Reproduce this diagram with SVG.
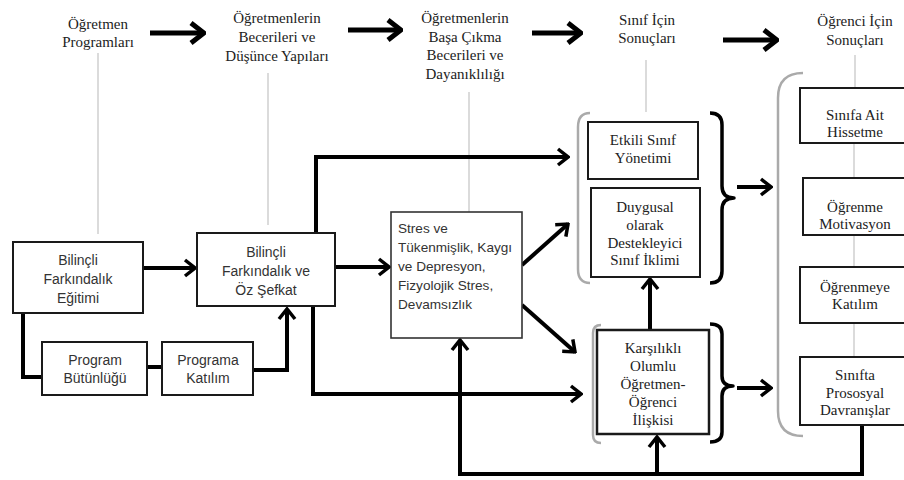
<svg xmlns="http://www.w3.org/2000/svg" width="904" height="480" viewBox="0 0 904 480">
<defs>
<style>
.serif{font-family:"Liberation Serif","Times New Roman",serif;font-size:15px;fill:#222;text-anchor:middle}
.sans{font-family:"Liberation Sans",Arial,sans-serif;font-size:14px;fill:#333;text-anchor:middle}
.sansl{font-family:"Liberation Sans",Arial,sans-serif;font-size:13.6px;fill:#333}
.box{fill:#fff;stroke:#1a1a1a;stroke-width:2}
.guide{stroke:#cfcfcf;stroke-width:1.5;fill:none}
.paren{stroke:#aaa;stroke-width:2.5;fill:none}
.brace{stroke:#000;stroke-width:3.5;fill:none;stroke-linejoin:round}
.conn{stroke:#000;stroke-width:4;fill:none;stroke-linejoin:miter}
.big{stroke:#000;stroke-width:5;fill:none}
</style>
<marker id="ah" viewBox="-14 -12 16 24" refX="0" refY="0" markerWidth="16" markerHeight="24" markerUnits="userSpaceOnUse" orient="auto">
<path d="M-10,-8 L0,0 L-10,8" fill="none" stroke="#000" stroke-width="3.5"/>
</marker>
<marker id="bh" viewBox="-18 -14 20 28" refX="0" refY="0" markerWidth="20" markerHeight="28" markerUnits="userSpaceOnUse" orient="auto">
<path d="M-13,-10 L0,0 L-13,10" fill="none" stroke="#000" stroke-width="5"/>
</marker>
</defs>
<rect width="904" height="480" fill="#fff"/>

<g id="guides">
<line class="guide" x1="98" y1="53" x2="98" y2="234"/>
<line class="guide" x1="268" y1="73" x2="268" y2="225"/>
<line class="guide" x1="469" y1="92" x2="469" y2="212"/>
<line class="guide" x1="646" y1="60" x2="646" y2="112"/>
<line class="guide" x1="855" y1="55" x2="855" y2="88"/>
<line class="guide" x1="854" y1="143" x2="854" y2="178"/>
<line class="guide" x1="854" y1="235" x2="854" y2="267"/>
<line class="guide" x1="854" y1="323" x2="854" y2="357"/>
</g>

<g id="titles">
<text class="serif"><tspan x="98" y="29">Öğretmen</tspan><tspan x="98" y="47">Programları</tspan></text>
<text class="serif"><tspan x="277" y="23">Öğretmenlerin</tspan><tspan x="277" y="42">Becerileri ve</tspan><tspan x="277" y="61">Düşünce Yapıları</tspan></text>
<text class="serif"><tspan x="465" y="23">Öğretmenlerin</tspan><tspan x="465" y="41.5">Başa Çıkma</tspan><tspan x="465" y="60">Becerileri ve</tspan><tspan x="465" y="78.5">Dayanıklılığı</tspan></text>
<text class="serif"><tspan x="647" y="25">Sınıf İçin</tspan><tspan x="647" y="43">Sonuçları</tspan></text>
<text class="serif"><tspan x="855" y="26">Öğrenci İçin</tspan><tspan x="855" y="45">Sonuçları</tspan></text>
</g>

<g id="brackets">
<path class="paren" d="M590,113 Q578,113 578,127 V269 Q578,283 590,283"/>
<path class="paren" d="M601,325 Q593,325 593,333 V435 Q593,443 601,443"/>
<path class="paren" d="M803,73 Q778,73 778,98 V411 Q778,436 803,436"/>
<path class="brace" d="M710,113 Q722,113 722,125 V186 Q722,198 734,198 Q722,198 722,210 V271 Q722,283 710,283"/>
<path class="brace" d="M710,324 Q722,324 722,334 V376 Q722,386 733,386 Q722,386 722,396 V432 Q722,442 710,442"/>
</g>

<g id="connectors">
<line class="big" x1="150" y1="33" x2="204" y2="33" marker-end="url(#bh)"/>
<line class="big" x1="348" y1="30" x2="401" y2="30" marker-end="url(#bh)"/>
<line class="big" x1="532" y1="33" x2="581" y2="33" marker-end="url(#bh)"/>
<line class="big" x1="723" y1="40" x2="777" y2="40" marker-end="url(#bh)"/>
<path class="conn" d="M143,268 H195" marker-end="url(#ah)"/>
<path class="conn" d="M23,313 V377 H42"/>
<path class="conn" d="M147,367 H162"/>
<path class="conn" d="M253,370 H287 V309" marker-end="url(#ah)"/>
<path class="conn" d="M335,267 H389" marker-end="url(#ah)"/>
<path class="conn" d="M316,233 V157 H568" marker-end="url(#ah)"/>
<path class="conn" d="M313,305 V394 H581" marker-end="url(#ah)"/>
<path class="conn" d="M522,265 L568,224" marker-end="url(#ah)"/>
<path class="conn" d="M522,305 L575,352" marker-end="url(#ah)"/>
<path class="conn" d="M862,425 V474 H460 V340" marker-end="url(#ah)"/>
<path class="conn" d="M657,474 V437" marker-end="url(#ah)"/>
<path class="conn" d="M650,330 V279" marker-end="url(#ah)"/>
<path class="conn" d="M737,187 H771" marker-end="url(#ah)"/>
<path class="conn" d="M737,388 H771" marker-end="url(#ah)"/>
</g>

<g id="n-egitim">
<rect class="box" x="13" y="242" width="130" height="71"/>
<text class="sans"><tspan x="78" y="265">Bilinçli</tspan><tspan x="78" y="284">Farkındalık</tspan><tspan x="78" y="303">Eğitimi</tspan></text>
</g>
<g id="n-sefkat">
<rect class="box" x="197" y="233" width="138" height="73"/>
<text class="sans"><tspan x="266" y="257">Bilinçli</tspan><tspan x="266" y="276">Farkındalık ve</tspan><tspan x="266" y="295">Öz Şefkat</tspan></text>
</g>
<g id="n-butunluk">
<rect class="box" x="42" y="342" width="105" height="53"/>
<text class="sans"><tspan x="95" y="365">Program</tspan><tspan x="95" y="383">Bütünlüğü</tspan></text>
</g>
<g id="n-katilim">
<rect class="box" x="162" y="342" width="91" height="53"/>
<text class="sans"><tspan x="208" y="365">Programa</tspan><tspan x="208" y="383">Katılım</tspan></text>
</g>
<g id="n-stres">
<rect class="box" x="391" y="212" width="131" height="126" style="stroke-width:1.6;stroke:#333"/>
<text class="sansl"><tspan x="398" y="233">Stres ve</tspan><tspan x="398" y="252">Tükenmişlik, Kaygı</tspan><tspan x="398" y="271">ve Depresyon,</tspan><tspan x="398" y="290">Fizyolojik Stres,</tspan><tspan x="398" y="309">Devamsızlık</tspan></text>
</g>
<g id="n-yonetim">
<rect class="box" x="588" y="122" width="110" height="57"/>
<text class="serif"><tspan x="643" y="145">Etkili Sınıf</tspan><tspan x="643" y="163">Yönetimi</tspan></text>
</g>
<g id="n-iklim">
<rect class="box" x="591" y="188" width="109" height="89"/>
<text class="serif"><tspan x="645" y="212">Duygusal</tspan><tspan x="645" y="230">olarak</tspan><tspan x="645" y="248">Destekleyici</tspan><tspan x="645" y="265">Sınıf İklimi</tspan></text>
</g>
<g id="n-iliski">
<rect class="box" x="597" y="330" width="112" height="104" style="stroke-width:2.5"/>
<text class="serif"><tspan x="653" y="353">Karşılıklı</tspan><tspan x="653" y="371">Olumlu</tspan><tspan x="653" y="389">Öğretmen-</tspan><tspan x="653" y="407">Öğrenci</tspan><tspan x="653" y="425">İlişkisi</tspan></text>
</g>
<g id="n-aidiyet">
<rect class="box" x="800" y="88" width="112" height="55"/>
<text class="serif"><tspan x="855" y="120">Sınıfa Ait</tspan><tspan x="855" y="137">Hissetme</tspan></text>
</g>
<g id="n-motivasyon">
<rect class="box" x="803" y="178" width="109" height="57"/>
<text class="serif"><tspan x="855" y="212">Öğrenme</tspan><tspan x="855" y="229">Motivasyon</tspan></text>
</g>
<g id="n-katilim2">
<rect class="box" x="800" y="267" width="112" height="56"/>
<text class="serif"><tspan x="855" y="292">Öğrenmeye</tspan><tspan x="855" y="309">Katılım</tspan></text>
</g>
<g id="n-prososyal">
<rect class="box" x="800" y="357" width="112" height="68"/>
<text class="serif"><tspan x="855" y="380">Sınıfta</tspan><tspan x="855" y="398">Prososyal</tspan><tspan x="855" y="415">Davranışlar</tspan></text>
</g>
</svg>
